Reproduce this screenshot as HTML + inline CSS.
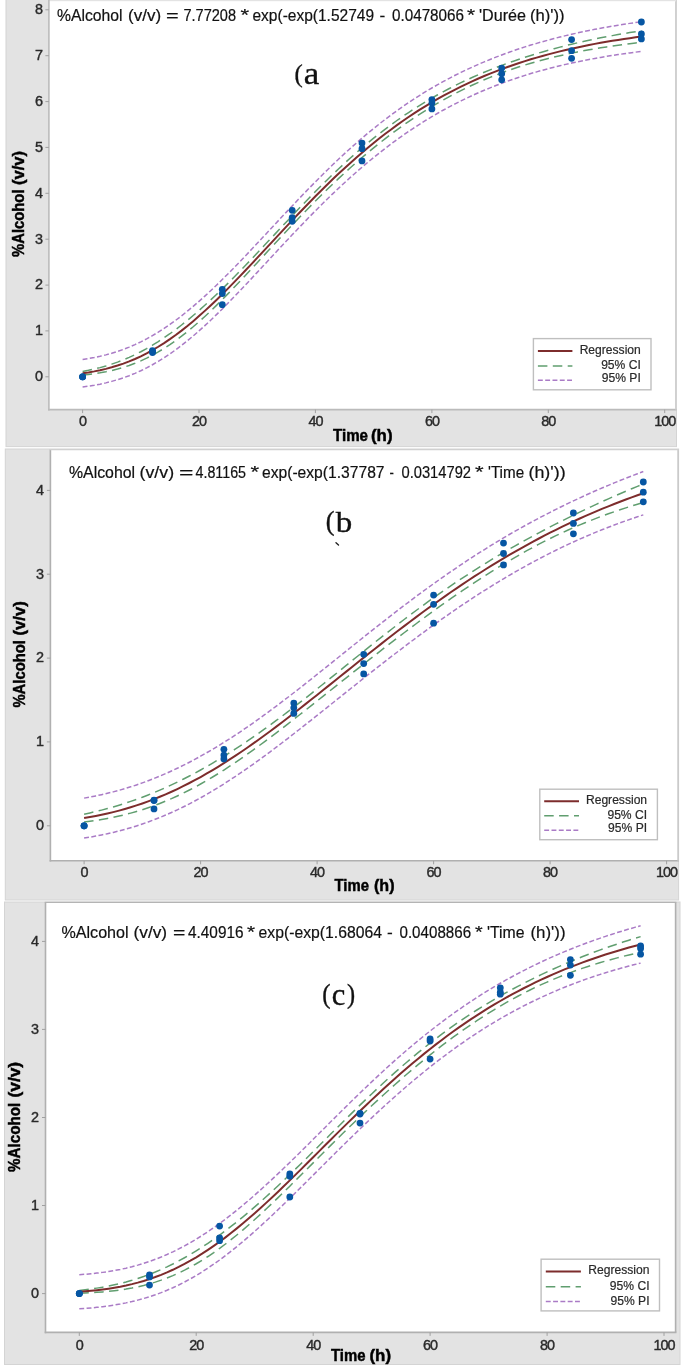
<!DOCTYPE html><html><head><meta charset="utf-8"><style>html,body{margin:0;padding:0;background:#fff}svg{display:block;will-change:transform}text{font-family:"Liberation Sans",sans-serif}</style></head><body>
<svg width="685" height="1366" viewBox="0 0 685 1366">
<rect width="685" height="1366" fill="#fff"/>
<rect x="6" y="-2" width="670.5" height="448.6" fill="#e3e3e3" stroke="#d4d4d4" stroke-width="1"/>
<rect x="48.9" y="1.2" width="626.9" height="408.40000000000003" fill="#fff"/>
<line x1="48.9" y1="0" x2="48.9" y2="410.40000000000003" stroke="#bbbbbb" stroke-width="1.6"/>
<line x1="48.1" y1="409.6" x2="676.5999999999999" y2="409.6" stroke="#bbbbbb" stroke-width="1.6"/>
<line x1="675.8" y1="1.2" x2="675.8" y2="409.6" stroke="#d0d0d0" stroke-width="1.6"/>
<line x1="45.4" y1="376.8" x2="48.9" y2="376.8" stroke="#a0a0a0" stroke-width="1"/>
<text x="43" y="381.1" font-size="14.4" text-anchor="end" fill="#2a2a2a" stroke="#2a2a2a" stroke-width="0.4">0</text>
<line x1="45.4" y1="330.9" x2="48.9" y2="330.9" stroke="#a0a0a0" stroke-width="1"/>
<text x="43" y="335.2" font-size="14.4" text-anchor="end" fill="#2a2a2a" stroke="#2a2a2a" stroke-width="0.4">1</text>
<line x1="45.4" y1="285.1" x2="48.9" y2="285.1" stroke="#a0a0a0" stroke-width="1"/>
<text x="43" y="289.4" font-size="14.4" text-anchor="end" fill="#2a2a2a" stroke="#2a2a2a" stroke-width="0.4">2</text>
<line x1="45.4" y1="239.2" x2="48.9" y2="239.2" stroke="#a0a0a0" stroke-width="1"/>
<text x="43" y="243.5" font-size="14.4" text-anchor="end" fill="#2a2a2a" stroke="#2a2a2a" stroke-width="0.4">3</text>
<line x1="45.4" y1="193.3" x2="48.9" y2="193.3" stroke="#a0a0a0" stroke-width="1"/>
<text x="43" y="197.6" font-size="14.4" text-anchor="end" fill="#2a2a2a" stroke="#2a2a2a" stroke-width="0.4">4</text>
<line x1="45.4" y1="147.4" x2="48.9" y2="147.4" stroke="#a0a0a0" stroke-width="1"/>
<text x="43" y="151.7" font-size="14.4" text-anchor="end" fill="#2a2a2a" stroke="#2a2a2a" stroke-width="0.4">5</text>
<line x1="45.4" y1="101.6" x2="48.9" y2="101.6" stroke="#a0a0a0" stroke-width="1"/>
<text x="43" y="105.9" font-size="14.4" text-anchor="end" fill="#2a2a2a" stroke="#2a2a2a" stroke-width="0.4">6</text>
<line x1="45.4" y1="55.7" x2="48.9" y2="55.7" stroke="#a0a0a0" stroke-width="1"/>
<text x="43" y="60.0" font-size="14.4" text-anchor="end" fill="#2a2a2a" stroke="#2a2a2a" stroke-width="0.4">7</text>
<line x1="45.4" y1="9.8" x2="48.9" y2="9.8" stroke="#a0a0a0" stroke-width="1"/>
<text x="43" y="14.1" font-size="14.4" text-anchor="end" fill="#2a2a2a" stroke="#2a2a2a" stroke-width="0.4">8</text>
<line x1="82.6" y1="409.6" x2="82.6" y2="413.1" stroke="#a0a0a0" stroke-width="1"/>
<text x="82.6" y="426.3" font-size="14.4" text-anchor="middle" fill="#2a2a2a" stroke="#2a2a2a" stroke-width="0.4" letter-spacing="-1">0</text>
<line x1="199.0" y1="409.6" x2="199.0" y2="413.1" stroke="#a0a0a0" stroke-width="1"/>
<text x="199.0" y="426.3" font-size="14.4" text-anchor="middle" fill="#2a2a2a" stroke="#2a2a2a" stroke-width="0.4" letter-spacing="-1">20</text>
<line x1="315.4" y1="409.6" x2="315.4" y2="413.1" stroke="#a0a0a0" stroke-width="1"/>
<text x="315.4" y="426.3" font-size="14.4" text-anchor="middle" fill="#2a2a2a" stroke="#2a2a2a" stroke-width="0.4" letter-spacing="-1">40</text>
<line x1="431.9" y1="409.6" x2="431.9" y2="413.1" stroke="#a0a0a0" stroke-width="1"/>
<text x="431.9" y="426.3" font-size="14.4" text-anchor="middle" fill="#2a2a2a" stroke="#2a2a2a" stroke-width="0.4" letter-spacing="-1">60</text>
<line x1="548.3" y1="409.6" x2="548.3" y2="413.1" stroke="#a0a0a0" stroke-width="1"/>
<text x="548.3" y="426.3" font-size="14.4" text-anchor="middle" fill="#2a2a2a" stroke="#2a2a2a" stroke-width="0.4" letter-spacing="-1">80</text>
<line x1="664.7" y1="409.6" x2="664.7" y2="413.1" stroke="#a0a0a0" stroke-width="1"/>
<text x="664.7" y="426.3" font-size="14.4" text-anchor="middle" fill="#2a2a2a" stroke="#2a2a2a" stroke-width="0.4" letter-spacing="-1">100</text>
<text x="333.00" y="441.3" font-size="16" font-weight="bold" fill="#000" stroke="#000" stroke-width="0.45" textLength="35.02" lengthAdjust="spacingAndGlyphs">Time</text>
<text x="371.00" y="441.3" font-size="16" font-weight="bold" fill="#000" stroke="#000" stroke-width="0.45" textLength="21.55" lengthAdjust="spacingAndGlyphs">(h)</text>
<text transform="translate(23.9,257.0) rotate(-90)" x="0.00" y="0" font-size="16" font-weight="bold" fill="#000" stroke="#000" stroke-width="0.45" textLength="67.52" lengthAdjust="spacingAndGlyphs">%Alcohol</text>
<text transform="translate(23.9,257.0) rotate(-90)" x="72.00" y="0" font-size="16" font-weight="bold" fill="#000" stroke="#000" stroke-width="0.45" textLength="34.05" lengthAdjust="spacingAndGlyphs">(v/v)</text>
<text x="57.00" y="21.0" font-size="16.2" fill="#111" stroke="#111" stroke-width="0.2" textLength="65.55" lengthAdjust="spacingAndGlyphs">%Alcohol</text>
<text x="128.00" y="21.0" font-size="16.2" fill="#111" stroke="#111" stroke-width="0.2" textLength="33.08" lengthAdjust="spacingAndGlyphs">(v/v)</text>
<text x="166.00" y="21.0" font-size="16.2" fill="#111" stroke="#111" stroke-width="0.2" textLength="12.72" lengthAdjust="spacingAndGlyphs">=</text>
<text x="183.50" y="21.0" font-size="16.2" fill="#111" stroke="#111" stroke-width="0.2" textLength="52.54" lengthAdjust="spacingAndGlyphs">7.77208</text>
<text x="240.50" y="21.0" font-size="16.2" fill="#111" stroke="#111" stroke-width="0.2" textLength="8.63" lengthAdjust="spacingAndGlyphs">*</text>
<text x="252.50" y="21.0" font-size="16.2" fill="#111" stroke="#111" stroke-width="0.2" textLength="121.52" lengthAdjust="spacingAndGlyphs">exp(-exp(1.52749</text>
<text x="379.50" y="21.0" font-size="16.2" fill="#111" stroke="#111" stroke-width="0.2" textLength="5.77" lengthAdjust="spacingAndGlyphs">-</text>
<text x="392.00" y="21.0" font-size="16.2" fill="#111" stroke="#111" stroke-width="0.2" textLength="72.01" lengthAdjust="spacingAndGlyphs">0.0478066</text>
<text x="467.00" y="21.0" font-size="16.2" fill="#111" stroke="#111" stroke-width="0.2" textLength="8.09" lengthAdjust="spacingAndGlyphs">*</text>
<text x="479.00" y="21.0" font-size="16.2" fill="#111" stroke="#111" stroke-width="0.2" textLength="47.02" lengthAdjust="spacingAndGlyphs">'Durée</text>
<text x="530.00" y="21.0" font-size="16.2" fill="#111" stroke="#111" stroke-width="0.2" textLength="34.62" lengthAdjust="spacingAndGlyphs">(h)'))</text>
<text transform="translate(294.48,81.58) scale(0.948,1)" x="0" y="0" font-size="26.11" fill="#111" stroke="#111" stroke-width="0.35" style="font-family:'Liberation Serif',serif">(</text>
<text transform="translate(303.83,83.50) scale(1.111,1)" x="0" y="0" font-size="31.50" fill="#111" stroke="#111" stroke-width="0.35" style="font-family:'Liberation Serif',serif">a</text>
<path d="M82.60,359.43 L88.42,358.54 L94.24,357.50 L100.06,356.28 L105.88,354.87 L111.70,353.26 L117.53,351.44 L123.35,349.40 L129.17,347.13 L134.99,344.62 L140.81,341.87 L146.63,338.87 L152.45,335.63 L158.27,332.14 L164.09,328.41 L169.91,324.44 L175.74,320.25 L181.56,315.82 L187.38,311.19 L193.20,306.35 L199.02,301.31 L204.84,296.10 L210.66,290.72 L216.48,285.18 L222.30,279.50 L228.12,273.70 L233.95,267.78 L239.77,261.77 L245.59,255.69 L251.41,249.53 L257.23,243.33 L263.05,237.10 L268.87,230.85 L274.69,224.59 L280.51,218.34 L286.34,212.12 L292.16,205.94 L297.98,199.80 L303.80,193.72 L309.62,187.71 L315.44,181.79 L321.26,175.95 L327.08,170.21 L332.90,164.58 L338.72,159.05 L344.54,153.64 L350.37,148.35 L356.19,143.19 L362.01,138.16 L367.83,133.25 L373.65,128.48 L379.47,123.83 L385.29,119.33 L391.11,114.95 L396.93,110.71 L402.75,106.60 L408.58,102.62 L414.40,98.78 L420.22,95.06 L426.04,91.46 L431.86,87.99 L437.68,84.64 L443.50,81.40 L449.32,78.29 L455.14,75.28 L460.97,72.38 L466.79,69.59 L472.61,66.91 L478.43,64.32 L484.25,61.84 L490.07,59.44 L495.89,57.14 L501.71,54.93 L507.53,52.80 L513.35,50.76 L519.17,48.79 L525.00,46.90 L530.82,45.09 L536.64,43.35 L542.46,41.68 L548.28,40.07 L554.10,38.53 L559.92,37.05 L565.74,35.63 L571.56,34.27 L577.38,32.97 L583.21,31.71 L589.03,30.51 L594.85,29.36 L600.67,28.26 L606.49,27.20 L612.31,26.18 L618.13,25.21 L623.95,24.28 L629.77,23.38 L635.60,22.53 L641.42,21.71" fill="none" stroke="#aa7bc6" stroke-width="1.5" stroke-dasharray="4.9 2.4"/>
<path d="M82.60,387.05 L88.42,386.23 L94.24,385.27 L100.06,384.15 L105.88,382.86 L111.70,381.38 L117.53,379.70 L123.35,377.80 L129.17,375.69 L134.99,373.33 L140.81,370.73 L146.63,367.88 L152.45,364.77 L158.27,361.41 L164.09,357.79 L169.91,353.91 L175.74,349.77 L181.56,345.40 L187.38,340.79 L193.20,335.95 L199.02,330.91 L204.84,325.66 L210.66,320.24 L216.48,314.64 L222.30,308.91 L228.12,303.04 L233.95,297.06 L239.77,290.98 L245.59,284.83 L251.41,278.62 L257.23,272.37 L263.05,266.10 L268.87,259.81 L274.69,253.53 L280.51,247.27 L286.34,241.05 L292.16,234.86 L297.98,228.73 L303.80,222.67 L309.62,216.68 L315.44,210.77 L321.26,204.95 L327.08,199.23 L332.90,193.61 L338.72,188.10 L344.54,182.70 L350.37,177.42 L356.19,172.25 L362.01,167.21 L367.83,162.30 L373.65,157.51 L379.47,152.85 L385.29,148.32 L391.11,143.91 L396.93,139.64 L402.75,135.49 L408.58,131.48 L414.40,127.59 L420.22,123.82 L426.04,120.18 L431.86,116.67 L437.68,113.27 L443.50,110.00 L449.32,106.84 L455.14,103.80 L460.97,100.87 L466.79,98.06 L472.61,95.35 L478.43,92.74 L484.25,90.24 L490.07,87.83 L495.89,85.53 L501.71,83.31 L507.53,81.19 L513.35,79.16 L519.17,77.21 L525.00,75.35 L530.82,73.56 L536.64,71.85 L542.46,70.22 L548.28,68.66 L554.10,67.16 L559.92,65.74 L565.74,64.37 L571.56,63.07 L577.38,61.83 L583.21,60.64 L589.03,59.51 L594.85,58.43 L600.67,57.40 L606.49,56.41 L612.31,55.48 L618.13,54.58 L623.95,53.73 L629.77,52.92 L635.60,52.14 L641.42,51.41" fill="none" stroke="#aa7bc6" stroke-width="1.5" stroke-dasharray="4.9 2.4"/>
<path d="M82.60,371.46 L88.42,370.35 L94.24,369.07 L100.06,367.61 L105.88,365.97 L111.70,364.13 L117.53,362.09 L123.35,359.83 L129.17,357.35 L134.99,354.66 L140.81,351.74 L146.63,348.59 L152.45,345.21 L158.27,341.61 L164.09,337.78 L169.91,333.74 L175.74,329.48 L181.56,325.02 L187.38,320.37 L193.20,315.52 L199.02,310.50 L204.84,305.31 L210.66,299.96 L216.48,294.47 L222.30,288.84 L228.12,283.10 L233.95,277.24 L239.77,271.30 L245.59,265.27 L251.41,259.17 L257.23,253.02 L263.05,246.83 L268.87,240.61 L274.69,234.37 L280.51,228.14 L286.34,221.92 L292.16,215.74 L297.98,209.59 L303.80,203.50 L309.62,197.48 L315.44,191.53 L321.26,185.67 L327.08,179.92 L332.90,174.26 L338.72,168.73 L344.54,163.31 L350.37,158.01 L356.19,152.85 L362.01,147.82 L367.83,142.92 L373.65,138.16 L379.47,133.54 L385.29,129.06 L391.11,124.72 L396.93,120.51 L402.75,116.44 L408.58,112.51 L414.40,108.70 L420.22,105.03 L426.04,101.48 L431.86,98.06 L437.68,94.76 L443.50,91.58 L449.32,88.51 L455.14,85.55 L460.97,82.69 L466.79,79.94 L472.61,77.29 L478.43,74.73 L484.25,72.27 L490.07,69.89 L495.89,67.59 L501.71,65.38 L507.53,63.24 L513.35,61.18 L519.17,59.19 L525.00,57.28 L530.82,55.42 L536.64,53.64 L542.46,51.92 L548.28,50.26 L554.10,48.66 L559.92,47.12 L565.74,45.64 L571.56,44.21 L577.38,42.84 L583.21,41.51 L589.03,40.24 L594.85,39.02 L600.67,37.84 L606.49,36.71 L612.31,35.62 L618.13,34.58 L623.95,33.58 L629.77,32.61 L635.60,31.69 L641.42,30.80" fill="none" stroke="#609e6f" stroke-width="1.5" stroke-dasharray="9.5 5.4"/>
<path d="M82.60,375.02 L88.42,374.43 L94.24,373.70 L100.06,372.81 L105.88,371.76 L111.70,370.51 L117.53,369.05 L123.35,367.38 L129.17,365.46 L134.99,363.29 L140.81,360.86 L146.63,358.17 L152.45,355.19 L158.27,351.94 L164.09,348.41 L169.91,344.61 L175.74,340.54 L181.56,336.20 L187.38,331.61 L193.20,326.78 L199.02,321.72 L204.84,316.45 L210.66,310.99 L216.48,305.35 L222.30,299.56 L228.12,293.64 L233.95,287.59 L239.77,281.46 L245.59,275.25 L251.41,268.99 L257.23,262.69 L263.05,256.37 L268.87,250.06 L274.69,243.75 L280.51,237.48 L286.34,231.24 L292.16,225.06 L297.98,218.94 L303.80,212.89 L309.62,206.91 L315.44,201.02 L321.26,195.23 L327.08,189.52 L332.90,183.92 L338.72,178.42 L344.54,173.03 L350.37,167.76 L356.19,162.60 L362.01,157.55 L367.83,152.63 L373.65,147.82 L379.47,143.14 L385.29,138.58 L391.11,134.15 L396.93,129.84 L402.75,125.65 L408.58,121.59 L414.40,117.66 L420.22,113.85 L426.04,110.16 L431.86,106.59 L437.68,103.15 L443.50,99.83 L449.32,96.62 L455.14,93.53 L460.97,90.56 L466.79,87.71 L472.61,84.96 L478.43,82.33 L484.25,79.81 L490.07,77.39 L495.89,75.08 L501.71,72.86 L507.53,70.75 L513.35,68.74 L519.17,66.81 L525.00,64.98 L530.82,63.23 L536.64,61.56 L542.46,59.98 L548.28,58.47 L554.10,57.03 L559.92,55.67 L565.74,54.37 L571.56,53.13 L577.38,51.96 L583.21,50.84 L589.03,49.78 L594.85,48.77 L600.67,47.81 L606.49,46.90 L612.31,46.04 L618.13,45.21 L623.95,44.43 L629.77,43.69 L635.60,42.98 L641.42,42.31" fill="none" stroke="#609e6f" stroke-width="1.5" stroke-dasharray="9.5 5.4"/>
<path d="M82.60,373.24 L88.42,372.39 L94.24,371.38 L100.06,370.21 L105.88,368.86 L111.70,367.32 L117.53,365.57 L123.35,363.60 L129.17,361.41 L134.99,358.98 L140.81,356.30 L146.63,353.38 L152.45,350.20 L158.27,346.77 L164.09,343.10 L169.91,339.17 L175.74,335.01 L181.56,330.61 L187.38,325.99 L193.20,321.15 L199.02,316.11 L204.84,310.88 L210.66,305.48 L216.48,299.91 L222.30,294.20 L228.12,288.37 L233.95,282.42 L239.77,276.38 L245.59,270.26 L251.41,264.08 L257.23,257.85 L263.05,251.60 L268.87,245.33 L274.69,239.06 L280.51,232.81 L286.34,226.58 L292.16,220.40 L297.98,214.26 L303.80,208.19 L309.62,202.20 L315.44,196.28 L321.26,190.45 L327.08,184.72 L332.90,179.09 L338.72,173.57 L344.54,168.17 L350.37,162.89 L356.19,157.72 L362.01,152.69 L367.83,147.77 L373.65,142.99 L379.47,138.34 L385.29,133.82 L391.11,129.43 L396.93,125.17 L402.75,121.05 L408.58,117.05 L414.40,113.18 L420.22,109.44 L426.04,105.82 L431.86,102.33 L437.68,98.96 L443.50,95.70 L449.32,92.56 L455.14,89.54 L460.97,86.63 L466.79,83.83 L472.61,81.13 L478.43,78.53 L484.25,76.04 L490.07,73.64 L495.89,71.33 L501.71,69.12 L507.53,67.00 L513.35,64.96 L519.17,63.00 L525.00,61.13 L530.82,59.33 L536.64,57.60 L542.46,55.95 L548.28,54.36 L554.10,52.85 L559.92,51.39 L565.74,50.00 L571.56,48.67 L577.38,47.40 L583.21,46.18 L589.03,45.01 L594.85,43.89 L600.67,42.83 L606.49,41.81 L612.31,40.83 L618.13,39.90 L623.95,39.00 L629.77,38.15 L635.60,37.34 L641.42,36.56" fill="none" stroke="#7d2c2c" stroke-width="2.0"/>
<circle cx="82.6" cy="376.8" r="3.4" fill="#0656a3"/>
<circle cx="82.6" cy="376.8" r="3.4" fill="#0656a3"/>
<circle cx="82.6" cy="376.8" r="3.4" fill="#0656a3"/>
<circle cx="152.5" cy="350.7" r="3.4" fill="#0656a3"/>
<circle cx="152.5" cy="352.5" r="3.4" fill="#0656a3"/>
<circle cx="152.5" cy="351.6" r="3.4" fill="#0656a3"/>
<circle cx="222.3" cy="289.3" r="3.4" fill="#0656a3"/>
<circle cx="222.3" cy="293.6" r="3.4" fill="#0656a3"/>
<circle cx="222.3" cy="304.7" r="3.4" fill="#0656a3"/>
<circle cx="292.2" cy="210.3" r="3.4" fill="#0656a3"/>
<circle cx="292.2" cy="217.6" r="3.4" fill="#0656a3"/>
<circle cx="292.2" cy="221.3" r="3.4" fill="#0656a3"/>
<circle cx="362.0" cy="143.1" r="3.4" fill="#0656a3"/>
<circle cx="362.0" cy="148.7" r="3.4" fill="#0656a3"/>
<circle cx="362.0" cy="160.9" r="3.4" fill="#0656a3"/>
<circle cx="431.9" cy="99.6" r="3.4" fill="#0656a3"/>
<circle cx="431.9" cy="103.1" r="3.4" fill="#0656a3"/>
<circle cx="431.9" cy="108.9" r="3.4" fill="#0656a3"/>
<circle cx="501.7" cy="68.1" r="3.4" fill="#0656a3"/>
<circle cx="501.7" cy="73.7" r="3.4" fill="#0656a3"/>
<circle cx="501.7" cy="79.8" r="3.4" fill="#0656a3"/>
<circle cx="571.6" cy="39.6" r="3.4" fill="#0656a3"/>
<circle cx="571.6" cy="50.7" r="3.4" fill="#0656a3"/>
<circle cx="571.6" cy="58.3" r="3.4" fill="#0656a3"/>
<circle cx="641.4" cy="22.0" r="3.4" fill="#0656a3"/>
<circle cx="641.4" cy="33.9" r="3.4" fill="#0656a3"/>
<circle cx="641.4" cy="38.9" r="3.4" fill="#0656a3"/>
<rect x="533.4" y="338.6" width="117.6" height="51.2" fill="#fff" stroke="#bfbfbf" stroke-width="1.4"/>
<line x1="537.9" y1="350.9" x2="572.4" y2="350.9" stroke="#7d2c2c" stroke-width="2.0"/>
<line x1="537.9" y1="365.9" x2="572.4" y2="365.9" stroke="#609e6f" stroke-width="1.5" stroke-dasharray="9.5 5.4"/>
<line x1="537.9" y1="380.2" x2="572.4" y2="380.2" stroke="#aa7bc6" stroke-width="1.5" stroke-dasharray="4.9 2.4"/>
<text x="640.8000000000001" y="353.8" font-size="12.1" text-anchor="end" fill="#2a2a2a" stroke="#2a2a2a" stroke-width="0.2">Regression</text>
<text x="640.8000000000001" y="368.5" font-size="12.1" text-anchor="end" fill="#2a2a2a" stroke="#2a2a2a" stroke-width="0.2">95% CI</text>
<text x="640.8000000000001" y="382.2" font-size="12.1" text-anchor="end" fill="#2a2a2a" stroke="#2a2a2a" stroke-width="0.2">95% PI</text>
<rect x="5.3" y="449.0" width="673.3000000000001" height="451.0" fill="#e3e3e3" stroke="#d4d4d4" stroke-width="1"/>
<rect x="50.4" y="449.6" width="627.7" height="411.19999999999993" fill="#fff"/>
<line x1="50.4" y1="449.6" x2="50.4" y2="861.5999999999999" stroke="#b0b0b0" stroke-width="1.6"/>
<line x1="49.6" y1="860.8" x2="678.9" y2="860.8" stroke="#b0b0b0" stroke-width="1.6"/>
<line x1="678.1" y1="449.6" x2="678.1" y2="860.8" stroke="#c8c8c8" stroke-width="1.6"/>
<line x1="49.6" y1="449.6" x2="678.9" y2="449.6" stroke="#d0d0d0" stroke-width="1.2"/>
<line x1="46.9" y1="825.8" x2="50.4" y2="825.8" stroke="#a0a0a0" stroke-width="1"/>
<text x="44" y="830.0" font-size="14.4" text-anchor="end" fill="#2a2a2a" stroke="#2a2a2a" stroke-width="0.4">0</text>
<line x1="46.9" y1="741.9" x2="50.4" y2="741.9" stroke="#a0a0a0" stroke-width="1"/>
<text x="44" y="746.2" font-size="14.4" text-anchor="end" fill="#2a2a2a" stroke="#2a2a2a" stroke-width="0.4">1</text>
<line x1="46.9" y1="658.1" x2="50.4" y2="658.1" stroke="#a0a0a0" stroke-width="1"/>
<text x="44" y="662.4" font-size="14.4" text-anchor="end" fill="#2a2a2a" stroke="#2a2a2a" stroke-width="0.4">2</text>
<line x1="46.9" y1="574.2" x2="50.4" y2="574.2" stroke="#a0a0a0" stroke-width="1"/>
<text x="44" y="578.5" font-size="14.4" text-anchor="end" fill="#2a2a2a" stroke="#2a2a2a" stroke-width="0.4">3</text>
<line x1="46.9" y1="490.4" x2="50.4" y2="490.4" stroke="#a0a0a0" stroke-width="1"/>
<text x="44" y="494.7" font-size="14.4" text-anchor="end" fill="#2a2a2a" stroke="#2a2a2a" stroke-width="0.4">4</text>
<line x1="84.1" y1="860.8" x2="84.1" y2="864.3" stroke="#a0a0a0" stroke-width="1"/>
<text x="84.1" y="877.4" font-size="14.4" text-anchor="middle" fill="#2a2a2a" stroke="#2a2a2a" stroke-width="0.4" letter-spacing="-1">0</text>
<line x1="200.6" y1="860.8" x2="200.6" y2="864.3" stroke="#a0a0a0" stroke-width="1"/>
<text x="200.6" y="877.4" font-size="14.4" text-anchor="middle" fill="#2a2a2a" stroke="#2a2a2a" stroke-width="0.4" letter-spacing="-1">20</text>
<line x1="317.1" y1="860.8" x2="317.1" y2="864.3" stroke="#a0a0a0" stroke-width="1"/>
<text x="317.1" y="877.4" font-size="14.4" text-anchor="middle" fill="#2a2a2a" stroke="#2a2a2a" stroke-width="0.4" letter-spacing="-1">40</text>
<line x1="433.6" y1="860.8" x2="433.6" y2="864.3" stroke="#a0a0a0" stroke-width="1"/>
<text x="433.6" y="877.4" font-size="14.4" text-anchor="middle" fill="#2a2a2a" stroke="#2a2a2a" stroke-width="0.4" letter-spacing="-1">60</text>
<line x1="550.1" y1="860.8" x2="550.1" y2="864.3" stroke="#a0a0a0" stroke-width="1"/>
<text x="550.1" y="877.4" font-size="14.4" text-anchor="middle" fill="#2a2a2a" stroke="#2a2a2a" stroke-width="0.4" letter-spacing="-1">80</text>
<line x1="666.6" y1="860.8" x2="666.6" y2="864.3" stroke="#a0a0a0" stroke-width="1"/>
<text x="666.6" y="877.4" font-size="14.4" text-anchor="middle" fill="#2a2a2a" stroke="#2a2a2a" stroke-width="0.4" letter-spacing="-1">100</text>
<text x="334.50" y="891" font-size="16" font-weight="bold" fill="#000" stroke="#000" stroke-width="0.45" textLength="34.51" lengthAdjust="spacingAndGlyphs">Time</text>
<text x="374.00" y="891" font-size="16" font-weight="bold" fill="#000" stroke="#000" stroke-width="0.45" textLength="20.55" lengthAdjust="spacingAndGlyphs">(h)</text>
<text transform="translate(24.9,707.6) rotate(-90)" x="0.00" y="0" font-size="16" font-weight="bold" fill="#000" stroke="#000" stroke-width="0.45" textLength="67.51" lengthAdjust="spacingAndGlyphs">%Alcohol</text>
<text transform="translate(24.9,707.6) rotate(-90)" x="72.00" y="0" font-size="16" font-weight="bold" fill="#000" stroke="#000" stroke-width="0.45" textLength="34.55" lengthAdjust="spacingAndGlyphs">(v/v)</text>
<text x="69.00" y="478" font-size="16.0" fill="#111" stroke="#111" stroke-width="0.2" textLength="66.04" lengthAdjust="spacingAndGlyphs">%Alcohol</text>
<text x="139.50" y="478" font-size="16.0" fill="#111" stroke="#111" stroke-width="0.2" textLength="34.57" lengthAdjust="spacingAndGlyphs">(v/v)</text>
<text x="179.00" y="478" font-size="16.0" fill="#111" stroke="#111" stroke-width="0.2" textLength="14.40" lengthAdjust="spacingAndGlyphs">=</text>
<text x="195.50" y="478" font-size="16.0" fill="#111" stroke="#111" stroke-width="0.2" textLength="50.51" lengthAdjust="spacingAndGlyphs">4.81165</text>
<text x="250.50" y="478" font-size="16.0" fill="#111" stroke="#111" stroke-width="0.2" textLength="8.63" lengthAdjust="spacingAndGlyphs">*</text>
<text x="262.00" y="478" font-size="16.0" fill="#111" stroke="#111" stroke-width="0.2" textLength="122.53" lengthAdjust="spacingAndGlyphs">exp(-exp(1.37787</text>
<text x="389.50" y="478" font-size="16.0" fill="#111" stroke="#111" stroke-width="0.2" textLength="4.40" lengthAdjust="spacingAndGlyphs">-</text>
<text x="401.50" y="478" font-size="16.0" fill="#111" stroke="#111" stroke-width="0.2" textLength="69.51" lengthAdjust="spacingAndGlyphs">0.0314792</text>
<text x="475.00" y="478" font-size="16.0" fill="#111" stroke="#111" stroke-width="0.2" textLength="8.63" lengthAdjust="spacingAndGlyphs">*</text>
<text x="488.00" y="478" font-size="16.0" fill="#111" stroke="#111" stroke-width="0.2" textLength="36.09" lengthAdjust="spacingAndGlyphs">'Time</text>
<text x="528.50" y="478" font-size="16.0" fill="#111" stroke="#111" stroke-width="0.2" textLength="37.12" lengthAdjust="spacingAndGlyphs">(h)'))</text>
<text transform="translate(325.73,530.23) scale(0.997,1)" x="0" y="0" font-size="26.33" fill="#111" stroke="#111" stroke-width="0.35" style="font-family:'Liberation Serif',serif">(</text>
<text transform="translate(335.80,531.50) scale(1.117,1)" x="0" y="0" font-size="29.55" fill="#111" stroke="#111" stroke-width="0.35" style="font-family:'Liberation Serif',serif">b</text>
<line x1="336" y1="542.8" x2="338.5" y2="545" stroke="#222" stroke-width="1.4" stroke-linecap="round"/>
<path d="M84.10,798.13 L89.92,797.08 L95.75,795.93 L101.57,794.68 L107.40,793.33 L113.22,791.87 L119.05,790.30 L124.88,788.62 L130.70,786.83 L136.52,784.92 L142.35,782.89 L148.18,780.75 L154.00,778.49 L159.82,776.11 L165.65,773.61 L171.47,771.00 L177.30,768.27 L183.12,765.42 L188.95,762.46 L194.77,759.39 L200.60,756.20 L206.43,752.91 L212.25,749.51 L218.07,746.01 L223.90,742.41 L229.72,738.71 L235.55,734.92 L241.38,731.04 L247.20,727.07 L253.03,723.02 L258.85,718.90 L264.67,714.70 L270.50,710.43 L276.32,706.10 L282.15,701.71 L287.98,697.26 L293.80,692.77 L299.62,688.24 L305.45,683.67 L311.27,679.06 L317.10,674.43 L322.92,669.78 L328.75,665.11 L334.57,660.43 L340.40,655.74 L346.23,651.06 L352.05,646.38 L357.88,641.71 L363.70,637.05 L369.52,632.41 L375.35,627.80 L381.17,623.21 L387.00,618.65 L392.83,614.13 L398.65,609.65 L404.48,605.20 L410.30,600.81 L416.12,596.45 L421.95,592.15 L427.77,587.90 L433.60,583.70 L439.42,579.56 L445.25,575.47 L451.08,571.44 L456.90,567.47 L462.73,563.57 L468.55,559.72 L474.38,555.93 L480.20,552.21 L486.02,548.54 L491.85,544.94 L497.67,541.40 L503.50,537.93 L509.33,534.51 L515.15,531.16 L520.98,527.87 L526.80,524.64 L532.62,521.46 L538.45,518.35 L544.27,515.30 L550.10,512.30 L555.92,509.36 L561.75,506.48 L567.58,503.65 L573.40,500.88 L579.23,498.16 L585.05,495.49 L590.88,492.88 L596.70,490.31 L602.52,487.80 L608.35,485.34 L614.18,482.92 L620.00,480.56 L625.83,478.24 L631.65,475.96 L637.48,473.74 L643.30,471.56" fill="none" stroke="#aa7bc6" stroke-width="1.5" stroke-dasharray="4.9 2.4"/>
<path d="M84.10,838.09 L89.92,837.14 L95.75,836.11 L101.57,834.97 L107.40,833.74 L113.22,832.40 L119.05,830.96 L124.88,829.40 L130.70,827.72 L136.52,825.92 L142.35,824.01 L148.18,821.96 L154.00,819.79 L159.82,817.49 L165.65,815.06 L171.47,812.51 L177.30,809.82 L183.12,807.01 L188.95,804.07 L194.77,801.00 L200.60,797.81 L206.43,794.51 L212.25,791.09 L218.07,787.55 L223.90,783.91 L229.72,780.17 L235.55,776.33 L241.38,772.40 L247.20,768.38 L253.03,764.27 L258.85,760.10 L264.67,755.85 L270.50,751.54 L276.32,747.17 L282.15,742.75 L287.98,738.28 L293.80,733.76 L299.62,729.22 L305.45,724.64 L311.27,720.04 L317.10,715.41 L322.92,710.77 L328.75,706.12 L334.57,701.47 L340.40,696.81 L346.23,692.16 L352.05,687.51 L357.88,682.87 L363.70,678.24 L369.52,673.64 L375.35,669.05 L381.17,664.49 L387.00,659.96 L392.83,655.45 L398.65,650.98 L404.48,646.55 L410.30,642.15 L416.12,637.80 L421.95,633.49 L427.77,629.22 L433.60,625.01 L439.42,620.84 L445.25,616.73 L451.08,612.66 L456.90,608.66 L462.73,604.71 L468.55,600.82 L474.38,596.99 L480.20,593.23 L486.02,589.52 L491.85,585.88 L497.67,582.31 L503.50,578.79 L509.33,575.35 L515.15,571.97 L520.98,568.67 L526.80,565.43 L532.62,562.25 L538.45,559.15 L544.27,556.12 L550.10,553.15 L555.92,550.26 L561.75,547.43 L567.58,544.68 L573.40,541.99 L579.23,539.37 L585.05,536.82 L590.88,534.33 L596.70,531.91 L602.52,529.56 L608.35,527.28 L614.18,525.05 L620.00,522.90 L625.83,520.80 L631.65,518.77 L637.48,516.79 L643.30,514.88" fill="none" stroke="#aa7bc6" stroke-width="1.5" stroke-dasharray="4.9 2.4"/>
<path d="M84.10,814.17 L89.92,812.91 L95.75,811.55 L101.57,810.11 L107.40,808.57 L113.22,806.93 L119.05,805.19 L124.88,803.35 L130.70,801.40 L136.52,799.36 L142.35,797.21 L148.18,794.95 L154.00,792.59 L159.82,790.13 L165.65,787.56 L171.47,784.89 L177.30,782.11 L183.12,779.23 L188.95,776.25 L194.77,773.17 L200.60,769.99 L206.43,766.71 L212.25,763.34 L218.07,759.87 L223.90,756.31 L229.72,752.66 L235.55,748.92 L241.38,745.09 L247.20,741.18 L253.03,737.19 L258.85,733.12 L264.67,728.97 L270.50,724.75 L276.32,720.46 L282.15,716.11 L287.98,711.70 L293.80,707.23 L299.62,702.71 L305.45,698.15 L311.27,693.54 L317.10,688.90 L322.92,684.23 L328.75,679.54 L334.57,674.83 L340.40,670.11 L346.23,665.39 L352.05,660.68 L357.88,655.97 L363.70,651.28 L369.52,646.60 L375.35,641.96 L381.17,637.34 L387.00,632.76 L392.83,628.22 L398.65,623.72 L404.48,619.27 L410.30,614.86 L416.12,610.51 L421.95,606.22 L427.77,601.98 L433.60,597.80 L439.42,593.69 L445.25,589.63 L451.08,585.64 L456.90,581.71 L462.73,577.84 L468.55,574.04 L474.38,570.31 L480.20,566.63 L486.02,563.02 L491.85,559.47 L497.67,555.97 L503.50,552.54 L509.33,549.16 L515.15,545.84 L520.98,542.57 L526.80,539.35 L532.62,536.17 L538.45,533.05 L544.27,529.97 L550.10,526.93 L555.92,523.94 L561.75,520.98 L567.58,518.07 L573.40,515.20 L579.23,512.36 L585.05,509.57 L590.88,506.82 L596.70,504.11 L602.52,501.44 L608.35,498.82 L614.18,496.23 L620.00,493.69 L625.83,491.20 L631.65,488.74 L637.48,486.33 L643.30,483.97" fill="none" stroke="#609e6f" stroke-width="1.5" stroke-dasharray="9.5 5.4"/>
<path d="M84.10,822.05 L89.92,821.31 L95.75,820.48 L101.57,819.55 L107.40,818.50 L113.22,817.35 L119.05,816.07 L124.88,814.67 L130.70,813.14 L136.52,811.48 L142.35,809.69 L148.18,807.76 L154.00,805.69 L159.82,803.47 L165.65,801.11 L171.47,798.62 L177.30,795.97 L183.12,793.19 L188.95,790.27 L194.77,787.21 L200.60,784.02 L206.43,780.70 L212.25,777.26 L218.07,773.69 L223.90,770.01 L229.72,766.23 L235.55,762.33 L241.38,758.35 L247.20,754.27 L253.03,750.11 L258.85,745.88 L264.67,741.58 L270.50,737.22 L276.32,732.80 L282.15,728.34 L287.98,723.84 L293.80,719.31 L299.62,714.74 L305.45,710.16 L311.27,705.56 L317.10,700.94 L322.92,696.32 L328.75,691.70 L334.57,687.07 L340.40,682.44 L346.23,677.82 L352.05,673.21 L357.88,668.61 L363.70,664.02 L369.52,659.45 L375.35,654.89 L381.17,650.36 L387.00,645.85 L392.83,641.37 L398.65,636.91 L404.48,632.49 L410.30,628.10 L416.12,623.74 L421.95,619.42 L427.77,615.14 L433.60,610.90 L439.42,606.71 L445.25,602.57 L451.08,598.47 L456.90,594.43 L462.73,590.43 L468.55,586.50 L474.38,582.62 L480.20,578.80 L486.02,575.05 L491.85,571.36 L497.67,567.74 L503.50,564.18 L509.33,560.70 L515.15,557.30 L520.98,553.97 L526.80,550.71 L532.62,547.54 L538.45,544.45 L544.27,541.45 L550.10,538.52 L555.92,535.68 L561.75,532.93 L567.58,530.26 L573.40,527.67 L579.23,525.16 L585.05,522.74 L590.88,520.39 L596.70,518.12 L602.52,515.92 L608.35,513.80 L614.18,511.74 L620.00,509.76 L625.83,507.84 L631.65,505.99 L637.48,504.20 L643.30,502.46" fill="none" stroke="#609e6f" stroke-width="1.5" stroke-dasharray="9.5 5.4"/>
<path d="M84.10,818.11 L89.92,817.11 L95.75,816.02 L101.57,814.83 L107.40,813.53 L113.22,812.14 L119.05,810.63 L124.88,809.01 L130.70,807.27 L136.52,805.42 L142.35,803.45 L148.18,801.36 L154.00,799.14 L159.82,796.80 L165.65,794.34 L171.47,791.75 L177.30,789.04 L183.12,786.21 L188.95,783.26 L194.77,780.19 L200.60,777.01 L206.43,773.71 L212.25,770.30 L218.07,766.78 L223.90,763.16 L229.72,759.44 L235.55,755.63 L241.38,751.72 L247.20,747.72 L253.03,743.65 L258.85,739.50 L264.67,735.27 L270.50,730.98 L276.32,726.63 L282.15,722.23 L287.98,717.77 L293.80,713.27 L299.62,708.73 L305.45,704.15 L311.27,699.55 L317.10,694.92 L322.92,690.28 L328.75,685.62 L334.57,680.95 L340.40,676.28 L346.23,671.61 L352.05,666.94 L357.88,662.29 L363.70,657.65 L369.52,653.03 L375.35,648.43 L381.17,643.85 L387.00,639.31 L392.83,634.79 L398.65,630.32 L404.48,625.88 L410.30,621.48 L416.12,617.13 L421.95,612.82 L427.77,608.56 L433.60,604.35 L439.42,600.20 L445.25,596.10 L451.08,592.05 L456.90,588.07 L462.73,584.14 L468.55,580.27 L474.38,576.46 L480.20,572.72 L486.02,569.03 L491.85,565.41 L497.67,561.85 L503.50,558.36 L509.33,554.93 L515.15,551.57 L520.98,548.27 L526.80,545.03 L532.62,541.86 L538.45,538.75 L544.27,535.71 L550.10,532.73 L555.92,529.81 L561.75,526.96 L567.58,524.16 L573.40,521.43 L579.23,518.76 L585.05,516.15 L590.88,513.60 L596.70,511.11 L602.52,508.68 L608.35,506.31 L614.18,503.99 L620.00,501.73 L625.83,499.52 L631.65,497.36 L637.48,495.26 L643.30,493.22" fill="none" stroke="#7d2c2c" stroke-width="2.0"/>
<circle cx="84.1" cy="825.8" r="3.4" fill="#0656a3"/>
<circle cx="84.1" cy="825.8" r="3.4" fill="#0656a3"/>
<circle cx="84.1" cy="825.8" r="3.4" fill="#0656a3"/>
<circle cx="154.0" cy="800.1" r="3.4" fill="#0656a3"/>
<circle cx="154.0" cy="800.6" r="3.4" fill="#0656a3"/>
<circle cx="154.0" cy="808.9" r="3.4" fill="#0656a3"/>
<circle cx="223.9" cy="749.3" r="3.4" fill="#0656a3"/>
<circle cx="223.9" cy="755.1" r="3.4" fill="#0656a3"/>
<circle cx="223.9" cy="758.9" r="3.4" fill="#0656a3"/>
<circle cx="293.8" cy="703.1" r="3.4" fill="#0656a3"/>
<circle cx="293.8" cy="707.8" r="3.4" fill="#0656a3"/>
<circle cx="293.8" cy="713.4" r="3.4" fill="#0656a3"/>
<circle cx="363.7" cy="654.3" r="3.4" fill="#0656a3"/>
<circle cx="363.7" cy="663.6" r="3.4" fill="#0656a3"/>
<circle cx="363.7" cy="673.9" r="3.4" fill="#0656a3"/>
<circle cx="433.6" cy="595.1" r="3.4" fill="#0656a3"/>
<circle cx="433.6" cy="604.3" r="3.4" fill="#0656a3"/>
<circle cx="433.6" cy="623.2" r="3.4" fill="#0656a3"/>
<circle cx="503.5" cy="543.1" r="3.4" fill="#0656a3"/>
<circle cx="503.5" cy="553.5" r="3.4" fill="#0656a3"/>
<circle cx="503.5" cy="564.9" r="3.4" fill="#0656a3"/>
<circle cx="573.4" cy="513.0" r="3.4" fill="#0656a3"/>
<circle cx="573.4" cy="523.4" r="3.4" fill="#0656a3"/>
<circle cx="573.4" cy="533.8" r="3.4" fill="#0656a3"/>
<circle cx="643.3" cy="482.0" r="3.4" fill="#0656a3"/>
<circle cx="643.3" cy="492.2" r="3.4" fill="#0656a3"/>
<circle cx="643.3" cy="501.8" r="3.4" fill="#0656a3"/>
<rect x="539.8" y="789.2" width="117.6" height="50.5" fill="#fff" stroke="#bfbfbf" stroke-width="1.4"/>
<line x1="544.2" y1="801.3" x2="579" y2="801.3" stroke="#7d2c2c" stroke-width="2.0"/>
<line x1="544.2" y1="815.7" x2="579" y2="815.7" stroke="#609e6f" stroke-width="1.5" stroke-dasharray="9.5 5.4"/>
<line x1="544.2" y1="830.3" x2="579" y2="830.3" stroke="#aa7bc6" stroke-width="1.5" stroke-dasharray="4.9 2.4"/>
<text x="647.1" y="803.8" font-size="12.1" text-anchor="end" fill="#2a2a2a" stroke="#2a2a2a" stroke-width="0.2">Regression</text>
<text x="647.1" y="818.6" font-size="12.1" text-anchor="end" fill="#2a2a2a" stroke="#2a2a2a" stroke-width="0.2">95% CI</text>
<text x="647.1" y="832.4" font-size="12.1" text-anchor="end" fill="#2a2a2a" stroke="#2a2a2a" stroke-width="0.2">95% PI</text>
<rect x="4.5" y="902.0" width="675.5" height="462.5" fill="#e3e3e3" stroke="#d4d4d4" stroke-width="1"/>
<rect x="45.5" y="902.4" width="630.1" height="430.0000000000001" fill="#fff"/>
<line x1="45.5" y1="902.4" x2="45.5" y2="1333.2" stroke="#b0b0b0" stroke-width="1.6"/>
<line x1="44.7" y1="1332.4" x2="676.4" y2="1332.4" stroke="#b0b0b0" stroke-width="1.6"/>
<line x1="675.6" y1="902.4" x2="675.6" y2="1332.4" stroke="#b0b0b0" stroke-width="1.6"/>
<line x1="44.7" y1="902.4" x2="676.4" y2="902.4" stroke="#b4b4b4" stroke-width="1.2"/>
<line x1="42.0" y1="1293.6" x2="45.5" y2="1293.6" stroke="#a0a0a0" stroke-width="1"/>
<text x="39" y="1297.9" font-size="14.4" text-anchor="end" fill="#2a2a2a" stroke="#2a2a2a" stroke-width="0.4">0</text>
<line x1="42.0" y1="1205.5" x2="45.5" y2="1205.5" stroke="#a0a0a0" stroke-width="1"/>
<text x="39" y="1209.8" font-size="14.4" text-anchor="end" fill="#2a2a2a" stroke="#2a2a2a" stroke-width="0.4">1</text>
<line x1="42.0" y1="1117.5" x2="45.5" y2="1117.5" stroke="#a0a0a0" stroke-width="1"/>
<text x="39" y="1121.8" font-size="14.4" text-anchor="end" fill="#2a2a2a" stroke="#2a2a2a" stroke-width="0.4">2</text>
<line x1="42.0" y1="1029.4" x2="45.5" y2="1029.4" stroke="#a0a0a0" stroke-width="1"/>
<text x="39" y="1033.7" font-size="14.4" text-anchor="end" fill="#2a2a2a" stroke="#2a2a2a" stroke-width="0.4">3</text>
<line x1="42.0" y1="941.4" x2="45.5" y2="941.4" stroke="#a0a0a0" stroke-width="1"/>
<text x="39" y="945.7" font-size="14.4" text-anchor="end" fill="#2a2a2a" stroke="#2a2a2a" stroke-width="0.4">4</text>
<line x1="79.3" y1="1332.4" x2="79.3" y2="1335.9" stroke="#a0a0a0" stroke-width="1"/>
<text x="79.3" y="1349.7" font-size="14.4" text-anchor="middle" fill="#2a2a2a" stroke="#2a2a2a" stroke-width="0.4" letter-spacing="-1">0</text>
<line x1="196.2" y1="1332.4" x2="196.2" y2="1335.9" stroke="#a0a0a0" stroke-width="1"/>
<text x="196.2" y="1349.7" font-size="14.4" text-anchor="middle" fill="#2a2a2a" stroke="#2a2a2a" stroke-width="0.4" letter-spacing="-1">20</text>
<line x1="313.2" y1="1332.4" x2="313.2" y2="1335.9" stroke="#a0a0a0" stroke-width="1"/>
<text x="313.2" y="1349.7" font-size="14.4" text-anchor="middle" fill="#2a2a2a" stroke="#2a2a2a" stroke-width="0.4" letter-spacing="-1">40</text>
<line x1="430.1" y1="1332.4" x2="430.1" y2="1335.9" stroke="#a0a0a0" stroke-width="1"/>
<text x="430.1" y="1349.7" font-size="14.4" text-anchor="middle" fill="#2a2a2a" stroke="#2a2a2a" stroke-width="0.4" letter-spacing="-1">60</text>
<line x1="547.1" y1="1332.4" x2="547.1" y2="1335.9" stroke="#a0a0a0" stroke-width="1"/>
<text x="547.1" y="1349.7" font-size="14.4" text-anchor="middle" fill="#2a2a2a" stroke="#2a2a2a" stroke-width="0.4" letter-spacing="-1">80</text>
<line x1="664.0" y1="1332.4" x2="664.0" y2="1335.9" stroke="#a0a0a0" stroke-width="1"/>
<text x="664.0" y="1349.7" font-size="14.4" text-anchor="middle" fill="#2a2a2a" stroke="#2a2a2a" stroke-width="0.4" letter-spacing="-1">100</text>
<text x="331.00" y="1361.3" font-size="16" font-weight="bold" fill="#000" stroke="#000" stroke-width="0.45" textLength="34.52" lengthAdjust="spacingAndGlyphs">Time</text>
<text x="369.50" y="1361.3" font-size="16" font-weight="bold" fill="#000" stroke="#000" stroke-width="0.45" textLength="21.55" lengthAdjust="spacingAndGlyphs">(h)</text>
<text transform="translate(19.9,1171.9) rotate(-90)" x="0.00" y="0" font-size="16" font-weight="bold" fill="#000" stroke="#000" stroke-width="0.45" textLength="69.01" lengthAdjust="spacingAndGlyphs">%Alcohol</text>
<text transform="translate(19.9,1171.9) rotate(-90)" x="74.50" y="0" font-size="16" font-weight="bold" fill="#000" stroke="#000" stroke-width="0.45" textLength="35.53" lengthAdjust="spacingAndGlyphs">(v/v)</text>
<text x="61.50" y="937.5" font-size="16.6" fill="#111" stroke="#111" stroke-width="0.2" textLength="67.08" lengthAdjust="spacingAndGlyphs">%Alcohol</text>
<text x="133.50" y="937.5" font-size="16.6" fill="#111" stroke="#111" stroke-width="0.2" textLength="33.62" lengthAdjust="spacingAndGlyphs">(v/v)</text>
<text x="173.00" y="937.5" font-size="16.6" fill="#111" stroke="#111" stroke-width="0.2" textLength="12.39" lengthAdjust="spacingAndGlyphs">=</text>
<text x="188.00" y="937.5" font-size="16.6" fill="#111" stroke="#111" stroke-width="0.2" textLength="55.55" lengthAdjust="spacingAndGlyphs">4.40916</text>
<text x="247.00" y="937.5" font-size="16.6" fill="#111" stroke="#111" stroke-width="0.2" textLength="8.06" lengthAdjust="spacingAndGlyphs">*</text>
<text x="258.50" y="937.5" font-size="16.6" fill="#111" stroke="#111" stroke-width="0.2" textLength="123.52" lengthAdjust="spacingAndGlyphs">exp(-exp(1.68064</text>
<text x="387.00" y="937.5" font-size="16.6" fill="#111" stroke="#111" stroke-width="0.2" textLength="5.75" lengthAdjust="spacingAndGlyphs">-</text>
<text x="399.50" y="937.5" font-size="16.6" fill="#111" stroke="#111" stroke-width="0.2" textLength="71.56" lengthAdjust="spacingAndGlyphs">0.0408866</text>
<text x="475.00" y="937.5" font-size="16.6" fill="#111" stroke="#111" stroke-width="0.2" textLength="7.71" lengthAdjust="spacingAndGlyphs">*</text>
<text x="487.00" y="937.5" font-size="16.6" fill="#111" stroke="#111" stroke-width="0.2" textLength="37.56" lengthAdjust="spacingAndGlyphs">'Time</text>
<text x="530.50" y="937.5" font-size="16.6" fill="#111" stroke="#111" stroke-width="0.2" textLength="35.08" lengthAdjust="spacingAndGlyphs">(h)'))</text>
<text transform="translate(322.27,1002.74) scale(0.924,1)" x="0" y="0" font-size="26.78" fill="#111" stroke="#111" stroke-width="0.35" style="font-family:'Liberation Serif',serif">(</text>
<text transform="translate(331.78,1004.60) scale(0.982,1)" x="0" y="0" font-size="31.07" fill="#111" stroke="#111" stroke-width="0.35" style="font-family:'Liberation Serif',serif">c</text>
<text transform="translate(346.89,1002.74) scale(0.910,1)" x="0" y="0" font-size="26.78" fill="#111" stroke="#111" stroke-width="0.35" style="font-family:'Liberation Serif',serif">)</text>
<path d="M79.30,1274.75 L85.15,1274.29 L90.99,1273.76 L96.84,1273.12 L102.69,1272.38 L108.53,1271.52 L114.38,1270.54 L120.23,1269.42 L126.08,1268.15 L131.92,1266.73 L137.77,1265.14 L143.62,1263.38 L149.46,1261.45 L155.31,1259.33 L161.16,1257.02 L167.00,1254.52 L172.85,1251.83 L178.70,1248.95 L184.55,1245.87 L190.39,1242.60 L196.24,1239.14 L202.09,1235.49 L207.93,1231.66 L213.78,1227.65 L219.63,1223.46 L225.48,1219.11 L231.32,1214.60 L237.17,1209.93 L243.02,1205.11 L248.86,1200.16 L254.71,1195.08 L260.56,1189.88 L266.40,1184.56 L272.25,1179.15 L278.10,1173.65 L283.94,1168.07 L289.79,1162.42 L295.64,1156.71 L301.49,1150.95 L307.33,1145.16 L313.18,1139.34 L319.03,1133.50 L324.87,1127.66 L330.72,1121.82 L336.57,1116.00 L342.42,1110.20 L348.26,1104.44 L354.11,1098.72 L359.96,1093.04 L365.80,1087.43 L371.65,1081.88 L377.50,1076.39 L383.34,1070.99 L389.19,1065.66 L395.04,1060.42 L400.89,1055.27 L406.73,1050.22 L412.58,1045.26 L418.43,1040.40 L424.27,1035.64 L430.12,1030.99 L435.97,1026.44 L441.81,1021.99 L447.66,1017.65 L453.51,1013.42 L459.36,1009.29 L465.20,1005.26 L471.05,1001.34 L476.90,997.53 L482.74,993.81 L488.59,990.20 L494.44,986.68 L500.28,983.27 L506.13,979.95 L511.98,976.72 L517.82,973.59 L523.67,970.55 L529.52,967.59 L535.37,964.73 L541.21,961.94 L547.06,959.24 L552.91,956.62 L558.75,954.08 L564.60,951.62 L570.45,949.23 L576.30,946.92 L582.14,944.67 L587.99,942.49 L593.84,940.38 L599.68,938.34 L605.53,936.36 L611.38,934.44 L617.22,932.58 L623.07,930.78 L628.92,929.04 L634.76,927.35 L640.61,925.72" fill="none" stroke="#aa7bc6" stroke-width="1.5" stroke-dasharray="4.9 2.4"/>
<path d="M79.30,1308.83 L85.15,1308.42 L90.99,1307.93 L96.84,1307.36 L102.69,1306.69 L108.53,1305.91 L114.38,1305.03 L120.23,1304.02 L126.08,1302.87 L131.92,1301.58 L137.77,1300.14 L143.62,1298.53 L149.46,1296.74 L155.31,1294.78 L161.16,1292.63 L167.00,1290.28 L172.85,1287.73 L178.70,1284.98 L184.55,1282.02 L190.39,1278.85 L196.24,1275.48 L202.09,1271.90 L207.93,1268.11 L213.78,1264.13 L219.63,1259.96 L225.48,1255.60 L231.32,1251.06 L237.17,1246.35 L243.02,1241.49 L248.86,1236.48 L254.71,1231.34 L260.56,1226.07 L266.40,1220.69 L272.25,1215.21 L278.10,1209.65 L283.94,1204.01 L289.79,1198.31 L295.64,1192.56 L301.49,1186.77 L307.33,1180.96 L313.18,1175.12 L319.03,1169.28 L324.87,1163.45 L330.72,1157.63 L336.57,1151.82 L342.42,1146.05 L348.26,1140.31 L354.11,1134.62 L359.96,1128.97 L365.80,1123.38 L371.65,1117.86 L377.50,1112.40 L383.34,1107.01 L389.19,1101.70 L395.04,1096.47 L400.89,1091.32 L406.73,1086.26 L412.58,1081.29 L418.43,1076.41 L424.27,1071.63 L430.12,1066.95 L435.97,1062.36 L441.81,1057.88 L447.66,1053.49 L453.51,1049.21 L459.36,1045.03 L465.20,1040.96 L471.05,1036.99 L476.90,1033.13 L482.74,1029.37 L488.59,1025.71 L494.44,1022.16 L500.28,1018.71 L506.13,1015.37 L511.98,1012.12 L517.82,1008.97 L523.67,1005.93 L529.52,1002.98 L535.37,1000.13 L541.21,997.37 L547.06,994.70 L552.91,992.13 L558.75,989.64 L564.60,987.25 L570.45,984.94 L576.30,982.71 L582.14,980.56 L587.99,978.49 L593.84,976.50 L599.68,974.59 L605.53,972.75 L611.38,970.98 L617.22,969.27 L623.07,967.64 L628.92,966.07 L634.76,964.56 L640.61,963.11" fill="none" stroke="#aa7bc6" stroke-width="1.5" stroke-dasharray="4.9 2.4"/>
<path d="M79.30,1290.40 L85.15,1289.74 L90.99,1288.99 L96.84,1288.12 L102.69,1287.15 L108.53,1286.05 L114.38,1284.81 L120.23,1283.44 L126.08,1281.93 L131.92,1280.26 L137.77,1278.44 L143.62,1276.45 L149.46,1274.30 L155.31,1271.98 L161.16,1269.49 L167.00,1266.82 L172.85,1263.98 L178.70,1260.96 L184.55,1257.76 L190.39,1254.40 L196.24,1250.86 L202.09,1247.15 L207.93,1243.28 L213.78,1239.24 L219.63,1235.05 L225.48,1230.70 L231.32,1226.20 L237.17,1221.57 L243.02,1216.80 L248.86,1211.89 L254.71,1206.87 L260.56,1201.73 L266.40,1196.48 L272.25,1191.14 L278.10,1185.69 L283.94,1180.17 L289.79,1174.57 L295.64,1168.90 L301.49,1163.18 L307.33,1157.41 L313.18,1151.60 L319.03,1145.77 L324.87,1139.92 L330.72,1134.07 L336.57,1128.23 L342.42,1122.41 L348.26,1116.62 L354.11,1110.87 L359.96,1105.16 L365.80,1099.52 L371.65,1093.94 L377.50,1088.43 L383.34,1083.01 L389.19,1077.67 L395.04,1072.42 L400.89,1067.27 L406.73,1062.22 L412.58,1057.27 L418.43,1052.43 L424.27,1047.70 L430.12,1043.07 L435.97,1038.56 L441.81,1034.15 L447.66,1029.86 L453.51,1025.67 L459.36,1021.60 L465.20,1017.63 L471.05,1013.76 L476.90,1010.00 L482.74,1006.34 L488.59,1002.78 L494.44,999.31 L500.28,995.94 L506.13,992.65 L511.98,989.45 L517.82,986.33 L523.67,983.30 L529.52,980.33 L535.37,977.45 L541.21,974.64 L547.06,971.89 L552.91,969.22 L558.75,966.61 L564.60,964.07 L570.45,961.59 L576.30,959.18 L582.14,956.82 L587.99,954.54 L593.84,952.31 L599.68,950.14 L605.53,948.03 L611.38,945.99 L617.22,944.00 L623.07,942.07 L628.92,940.19 L634.76,938.37 L640.61,936.61" fill="none" stroke="#609e6f" stroke-width="1.5" stroke-dasharray="9.5 5.4"/>
<path d="M79.30,1293.19 L85.15,1292.97 L90.99,1292.70 L96.84,1292.35 L102.69,1291.92 L108.53,1291.39 L114.38,1290.75 L120.23,1289.99 L126.08,1289.09 L131.92,1288.05 L137.77,1286.84 L143.62,1285.46 L149.46,1283.89 L155.31,1282.13 L161.16,1280.16 L167.00,1277.98 L172.85,1275.59 L178.70,1272.97 L184.55,1270.13 L190.39,1267.06 L196.24,1263.76 L202.09,1260.24 L207.93,1256.50 L213.78,1252.54 L219.63,1248.38 L225.48,1244.01 L231.32,1239.45 L237.17,1234.71 L243.02,1229.81 L248.86,1224.75 L254.71,1219.54 L260.56,1214.21 L266.40,1208.77 L272.25,1203.23 L278.10,1197.60 L283.94,1191.91 L289.79,1186.16 L295.64,1180.36 L301.49,1174.54 L307.33,1168.70 L313.18,1162.86 L319.03,1157.02 L324.87,1151.19 L330.72,1145.37 L336.57,1139.59 L342.42,1133.84 L348.26,1128.13 L354.11,1122.47 L359.96,1116.85 L365.80,1111.30 L371.65,1105.80 L377.50,1100.36 L383.34,1094.99 L389.19,1089.69 L395.04,1084.47 L400.89,1079.32 L406.73,1074.26 L412.58,1069.28 L418.43,1064.38 L424.27,1059.58 L430.12,1054.86 L435.97,1050.24 L441.81,1045.71 L447.66,1041.28 L453.51,1036.95 L459.36,1032.72 L465.20,1028.60 L471.05,1024.57 L476.90,1020.65 L482.74,1016.84 L488.59,1013.13 L494.44,1009.53 L500.28,1006.04 L506.13,1002.66 L511.98,999.39 L517.82,996.23 L523.67,993.18 L529.52,990.24 L535.37,987.40 L541.21,984.68 L547.06,982.06 L552.91,979.54 L558.75,977.12 L564.60,974.80 L570.45,972.58 L576.30,970.45 L582.14,968.41 L587.99,966.45 L593.84,964.58 L599.68,962.79 L605.53,961.07 L611.38,959.43 L617.22,957.86 L623.07,956.35 L628.92,954.91 L634.76,953.54 L640.61,952.22" fill="none" stroke="#609e6f" stroke-width="1.5" stroke-dasharray="9.5 5.4"/>
<path d="M79.30,1291.79 L85.15,1291.36 L90.99,1290.84 L96.84,1290.24 L102.69,1289.53 L108.53,1288.72 L114.38,1287.78 L120.23,1286.72 L126.08,1285.51 L131.92,1284.15 L137.77,1282.64 L143.62,1280.95 L149.46,1279.09 L155.31,1277.05 L161.16,1274.82 L167.00,1272.40 L172.85,1269.78 L178.70,1266.96 L184.55,1263.95 L190.39,1260.73 L196.24,1257.31 L202.09,1253.70 L207.93,1249.89 L213.78,1245.89 L219.63,1241.71 L225.48,1237.35 L231.32,1232.83 L237.17,1228.14 L243.02,1223.30 L248.86,1218.32 L254.71,1213.21 L260.56,1207.97 L266.40,1202.63 L272.25,1197.18 L278.10,1191.65 L283.94,1186.04 L289.79,1180.36 L295.64,1174.63 L301.49,1168.86 L307.33,1163.06 L313.18,1157.23 L319.03,1151.39 L324.87,1145.55 L330.72,1139.72 L336.57,1133.91 L342.42,1128.13 L348.26,1122.38 L354.11,1116.67 L359.96,1111.01 L365.80,1105.41 L371.65,1099.87 L377.50,1094.40 L383.34,1089.00 L389.19,1083.68 L395.04,1078.45 L400.89,1073.30 L406.73,1068.24 L412.58,1063.28 L418.43,1058.41 L424.27,1053.64 L430.12,1048.97 L435.97,1044.40 L441.81,1039.93 L447.66,1035.57 L453.51,1031.31 L459.36,1027.16 L465.20,1023.11 L471.05,1019.17 L476.90,1015.33 L482.74,1011.59 L488.59,1007.96 L494.44,1004.42 L500.28,1000.99 L506.13,997.66 L511.98,994.42 L517.82,991.28 L523.67,988.24 L529.52,985.29 L535.37,982.43 L541.21,979.66 L547.06,976.97 L552.91,974.38 L558.75,971.86 L564.60,969.43 L570.45,967.08 L576.30,964.81 L582.14,962.62 L587.99,960.49 L593.84,958.44 L599.68,956.46 L605.53,954.55 L611.38,952.71 L617.22,950.93 L623.07,949.21 L628.92,947.55 L634.76,945.95 L640.61,944.41" fill="none" stroke="#7d2c2c" stroke-width="2.0"/>
<circle cx="79.3" cy="1293.6" r="3.4" fill="#0656a3"/>
<circle cx="79.3" cy="1293.6" r="3.4" fill="#0656a3"/>
<circle cx="79.3" cy="1293.6" r="3.4" fill="#0656a3"/>
<circle cx="149.5" cy="1274.9" r="3.4" fill="#0656a3"/>
<circle cx="149.5" cy="1276.9" r="3.4" fill="#0656a3"/>
<circle cx="149.5" cy="1285.1" r="3.4" fill="#0656a3"/>
<circle cx="219.6" cy="1226.1" r="3.4" fill="#0656a3"/>
<circle cx="219.6" cy="1238.0" r="3.4" fill="#0656a3"/>
<circle cx="219.6" cy="1240.7" r="3.4" fill="#0656a3"/>
<circle cx="289.8" cy="1174.0" r="3.4" fill="#0656a3"/>
<circle cx="289.8" cy="1176.3" r="3.4" fill="#0656a3"/>
<circle cx="289.8" cy="1197.0" r="3.4" fill="#0656a3"/>
<circle cx="360.0" cy="1113.3" r="3.4" fill="#0656a3"/>
<circle cx="360.0" cy="1114.0" r="3.4" fill="#0656a3"/>
<circle cx="360.0" cy="1123.1" r="3.4" fill="#0656a3"/>
<circle cx="430.1" cy="1039.0" r="3.4" fill="#0656a3"/>
<circle cx="430.1" cy="1041.0" r="3.4" fill="#0656a3"/>
<circle cx="430.1" cy="1059.1" r="3.4" fill="#0656a3"/>
<circle cx="500.3" cy="987.8" r="3.4" fill="#0656a3"/>
<circle cx="500.3" cy="992.2" r="3.4" fill="#0656a3"/>
<circle cx="500.3" cy="994.2" r="3.4" fill="#0656a3"/>
<circle cx="570.4" cy="959.6" r="3.4" fill="#0656a3"/>
<circle cx="570.4" cy="965.1" r="3.4" fill="#0656a3"/>
<circle cx="570.4" cy="975.3" r="3.4" fill="#0656a3"/>
<circle cx="640.6" cy="946.0" r="3.4" fill="#0656a3"/>
<circle cx="640.6" cy="948.4" r="3.4" fill="#0656a3"/>
<circle cx="640.6" cy="954.2" r="3.4" fill="#0656a3"/>
<rect x="541.1" y="1259.2" width="118.4" height="51.7" fill="#fff" stroke="#bfbfbf" stroke-width="1.4"/>
<line x1="545.8" y1="1271.5" x2="580.9" y2="1271.5" stroke="#7d2c2c" stroke-width="2.0"/>
<line x1="545.8" y1="1286.7" x2="580.9" y2="1286.7" stroke="#609e6f" stroke-width="1.5" stroke-dasharray="9.5 5.4"/>
<line x1="545.8" y1="1301.6" x2="580.9" y2="1301.6" stroke="#aa7bc6" stroke-width="1.5" stroke-dasharray="4.9 2.4"/>
<text x="649.5" y="1274.3" font-size="12.1" text-anchor="end" fill="#2a2a2a" stroke="#2a2a2a" stroke-width="0.2">Regression</text>
<text x="649.5" y="1289.6" font-size="12.1" text-anchor="end" fill="#2a2a2a" stroke="#2a2a2a" stroke-width="0.2">95% CI</text>
<text x="649.5" y="1304.5" font-size="12.1" text-anchor="end" fill="#2a2a2a" stroke="#2a2a2a" stroke-width="0.2">95% PI</text>
</svg></body></html>
